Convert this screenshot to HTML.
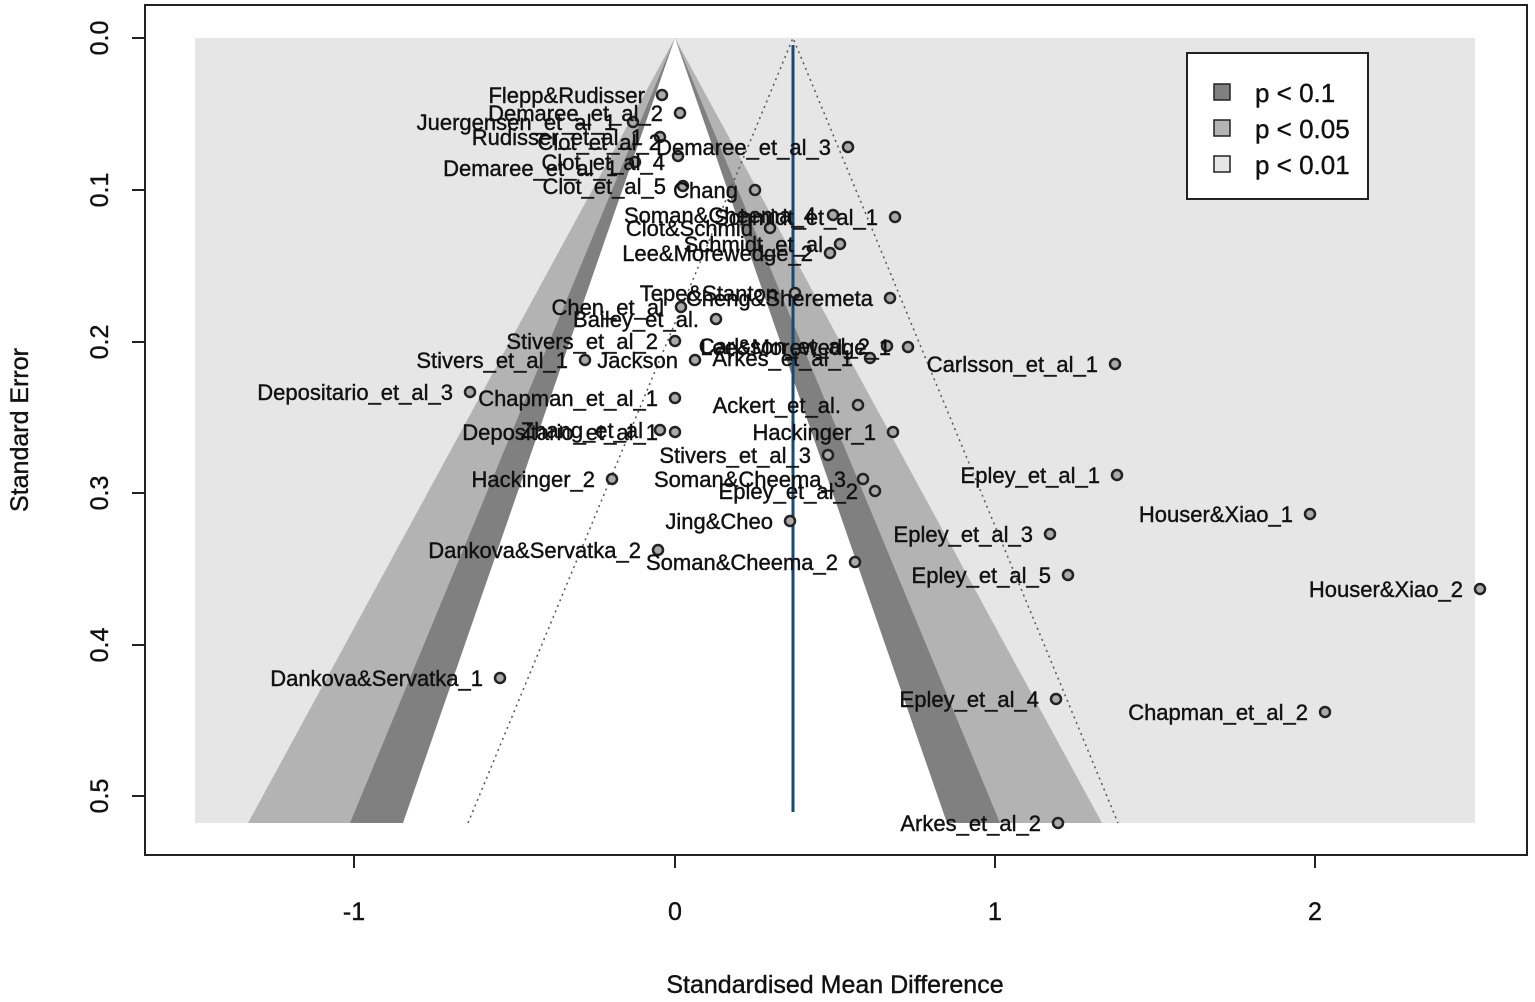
<!DOCTYPE html>
<html><head><meta charset="utf-8"><style>
html,body{margin:0;padding:0;background:#fff;}
svg{display:block;font-family:"Liberation Sans",Arial,sans-serif;}
</style></head><body>
<svg width="1535" height="1002" viewBox="0 0 1535 1002" xmlns="http://www.w3.org/2000/svg">
<rect x="195" y="38" width="1280" height="785" fill="#e6e6e6"/>
<polygon points="675,38 248,823 1102,823" fill="#b3b3b3"/>
<polygon points="675,38 350,823 1000,823" fill="#808080"/>
<polygon points="675,38 403,823 947,823" fill="#ffffff"/>
<polyline points="468,823 793,38 1118,823" fill="none" stroke="#555" stroke-width="1.5" stroke-dasharray="2,4"/>
<line x1="793" y1="45" x2="793" y2="812" stroke="#1a4a72" stroke-width="3"/>
<rect x="145" y="5" width="1382" height="850" fill="none" stroke="#222" stroke-width="2"/>
<g stroke="#222" stroke-width="2">
<line x1="354" y1="855" x2="1315" y2="855"/>
<line x1="354" y1="855" x2="354" y2="868"/><line x1="675" y1="855" x2="675" y2="868"/>
<line x1="995" y1="855" x2="995" y2="868"/><line x1="1315" y1="855" x2="1315" y2="868"/>
<line x1="145" y1="38" x2="145" y2="796"/>
<line x1="132" y1="38" x2="145" y2="38"/><line x1="132" y1="190" x2="145" y2="190"/>
<line x1="132" y1="342" x2="145" y2="342"/><line x1="132" y1="493" x2="145" y2="493"/>
<line x1="132" y1="645" x2="145" y2="645"/><line x1="132" y1="796" x2="145" y2="796"/>
</g>
<g font-size="25" fill="#111" stroke="#111" stroke-width="0.4" text-anchor="middle">
<text x="354" y="920">-1</text><text x="675" y="920">0</text><text x="995" y="920">1</text><text x="1315" y="920">2</text>
<text x="835" y="993">Standardised Mean Difference</text>
<g transform="translate(108,0)">
<text transform="translate(0,38) rotate(-90)">0.0</text>
<text transform="translate(0,190) rotate(-90)">0.1</text>
<text transform="translate(0,342) rotate(-90)">0.2</text>
<text transform="translate(0,493) rotate(-90)">0.3</text>
<text transform="translate(0,645) rotate(-90)">0.4</text>
<text transform="translate(0,796) rotate(-90)">0.5</text>
</g>
<text transform="translate(28,430) rotate(-90)">Standard Error</text>
</g>
<g fill="#aaa" stroke="#222" stroke-width="2.5">
<circle cx="662" cy="95" r="5"/><circle cx="680" cy="113" r="5"/><circle cx="633" cy="122" r="5"/>
<circle cx="848" cy="147" r="5"/><circle cx="660" cy="137" r="5"/><circle cx="635" cy="162" r="5"/>
<circle cx="678" cy="156" r="5"/><circle cx="755" cy="190" r="5"/><circle cx="683" cy="186" r="5"/>
<circle cx="833" cy="215" r="5"/><circle cx="895" cy="217" r="5"/><circle cx="770" cy="228" r="5"/>
<circle cx="840" cy="244" r="5"/><circle cx="830" cy="253" r="5"/><circle cx="890" cy="298" r="5"/>
<circle cx="681" cy="307" r="5"/><circle cx="716" cy="319" r="5"/><circle cx="795" cy="293" r="5"/>
<circle cx="675" cy="341" r="5"/><circle cx="887" cy="346" r="5"/><circle cx="908" cy="347" r="5"/>
<circle cx="695" cy="360" r="5"/><circle cx="870" cy="358" r="5"/><circle cx="585" cy="360" r="5"/>
<circle cx="1115" cy="364" r="5"/><circle cx="470" cy="392" r="5"/><circle cx="675" cy="398" r="5"/>
<circle cx="858" cy="405" r="5"/><circle cx="660" cy="430" r="5"/><circle cx="675" cy="432" r="5"/>
<circle cx="893" cy="432" r="5"/><circle cx="828" cy="455" r="5"/><circle cx="1117" cy="475" r="5"/>
<circle cx="612" cy="479" r="5"/><circle cx="863" cy="479" r="5"/><circle cx="875" cy="491" r="5"/>
<circle cx="1310" cy="514" r="5"/><circle cx="790" cy="521" r="5"/><circle cx="1050" cy="534" r="5"/>
<circle cx="658" cy="550" r="5"/><circle cx="855" cy="562" r="5"/><circle cx="1068" cy="575" r="5"/>
<circle cx="1480" cy="589" r="5"/><circle cx="500" cy="678" r="5"/><circle cx="1056" cy="699" r="5"/>
<circle cx="1325" cy="712" r="5"/><circle cx="1058" cy="823" r="5"/>
</g>
<g font-size="22" fill="#111" stroke="#111" stroke-width="0.4" text-anchor="end">
<text x="645" y="103">Flepp&amp;Rudisser</text>
<text x="663" y="121">Demaree_et_al_2</text>
<text x="616" y="130">Juergensen_et_al_1</text>
<text x="831" y="155">Demaree_et_al_3</text>
<text x="643" y="145">Rudisser_et_al_1</text>
<text x="661" y="150">Clot_et_al_2</text>
<text x="618" y="176">Demaree_et_al_1</text>
<text x="665" y="170">Clot_et_al_4</text>
<text x="738" y="198">Chang</text>
<text x="666" y="194">Clot_et_al_5</text>
<text x="816" y="223">Soman&amp;Cheema_4</text>
<text x="878" y="225">Schmidt_et_al_1</text>
<text x="753" y="236">Clot&amp;Schmid</text>
<text x="823" y="252">Schmidt_et_al</text>
<text x="813" y="261">Lee&amp;Morewedge_2</text>
<text x="873" y="306">Cheng&amp;Sheremeta</text>
<text x="664" y="315">Chen_et_al</text>
<text x="699" y="327">Bailey_et_al.</text>
<text x="778" y="301">Tepe&amp;Stanton</text>
<text x="658" y="349">Stivers_et_al_2</text>
<text x="870" y="354">Carlsson_et_al_2</text>
<text x="891" y="355">Lee&amp;Morewedge_1</text>
<text x="678" y="368">Jackson</text>
<text x="853" y="366">Arkes_et_al_1</text>
<text x="568" y="368">Stivers_et_al_1</text>
<text x="1098" y="372">Carlsson_et_al_1</text>
<text x="453" y="400">Depositario_et_al_3</text>
<text x="658" y="406">Chapman_et_al_1</text>
<text x="841" y="413">Ackert_et_al.</text>
<text x="643" y="438">Zhang_et_al</text>
<text x="658" y="440">Depositario_et_al_1</text>
<text x="876" y="440">Hackinger_1</text>
<text x="811" y="463">Stivers_et_al_3</text>
<text x="1100" y="483">Epley_et_al_1</text>
<text x="595" y="487">Hackinger_2</text>
<text x="846" y="487">Soman&amp;Cheema_3</text>
<text x="858" y="499">Epley_et_al_2</text>
<text x="1293" y="522">Houser&amp;Xiao_1</text>
<text x="773" y="529">Jing&amp;Cheo</text>
<text x="1033" y="542">Epley_et_al_3</text>
<text x="641" y="558">Dankova&amp;Servatka_2</text>
<text x="838" y="570">Soman&amp;Cheema_2</text>
<text x="1051" y="583">Epley_et_al_5</text>
<text x="1463" y="597">Houser&amp;Xiao_2</text>
<text x="483" y="686">Dankova&amp;Servatka_1</text>
<text x="1039" y="707">Epley_et_al_4</text>
<text x="1308" y="720">Chapman_et_al_2</text>
<text x="1041" y="831">Arkes_et_al_2</text>
</g>
<rect x="1187" y="53" width="181" height="146" fill="#fff" stroke="#222" stroke-width="2"/>
<g stroke="#222" stroke-width="1.5">
<rect x="1214" y="84" width="16" height="16" fill="#808080"/>
<rect x="1214" y="120" width="16" height="16" fill="#b3b3b3"/>
<rect x="1214" y="156" width="16" height="16" fill="#e6e6e6"/>
</g>
<g font-size="26" fill="#111" stroke="#111" stroke-width="0.4">
<text x="1255" y="102">p &lt; 0.1</text>
<text x="1255" y="138">p &lt; 0.05</text>
<text x="1255" y="174">p &lt; 0.01</text>
</g>
</svg>
</body></html>
